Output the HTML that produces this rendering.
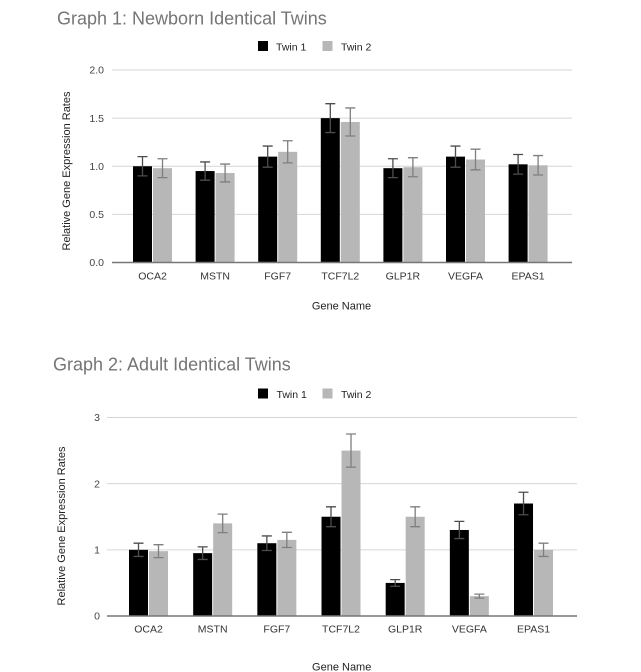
<!DOCTYPE html>
<html><head><meta charset="utf-8"><style>
html,body{margin:0;padding:0;background:#fff;}
svg{display:block;font-family:"Liberation Sans",Arial,sans-serif;}
</style></head><body>
<svg width="641" height="672" viewBox="0 0 641 672" xmlns="http://www.w3.org/2000/svg">
<rect width="641" height="672" fill="#fff"/>
<!-- ============ GRAPH 1 ============ -->
<text x="57" y="24.5" font-size="18" fill="#757575">Graph 1: Newborn Identical Twins</text>
<rect x="258" y="41" width="10" height="10" fill="#000"/>
<text x="276" y="50.5" font-size="10.5" fill="#222">Twin 1</text>
<rect x="322.5" y="41" width="10" height="10" fill="#b7b7b7"/>
<text x="341" y="50.5" font-size="10.5" fill="#222">Twin 2</text>
<g stroke="#d6d6d6" stroke-width="1">
<line x1="112" x2="572" y1="70" y2="70"/>
<line x1="112" x2="572" y1="118.1" y2="118.1"/>
<line x1="112" x2="572" y1="166.25" y2="166.25"/>
<line x1="112" x2="572" y1="214.4" y2="214.4"/>
</g>
<g font-size="10.5" fill="#444" text-anchor="end">
<text x="104" y="73.7">2.0</text>
<text x="104" y="121.8">1.5</text>
<text x="104" y="170">1.0</text>
<text x="104" y="218.1">0.5</text>
<text x="104" y="266.2">0.0</text>
</g>
<g fill="#000">
<rect x="133" y="166.25" width="19" height="96.25"/>
<rect x="195.6" y="171.06" width="19" height="91.44"/>
<rect x="258.2" y="156.63" width="19" height="105.87"/>
<rect x="320.8" y="118.13" width="19" height="144.37"/>
<rect x="383.4" y="168.18" width="19" height="94.32"/>
<rect x="446" y="156.63" width="19" height="105.87"/>
<rect x="508.6" y="164.32" width="19" height="98.18"/>
</g>
<g fill="#b7b7b7">
<rect x="153" y="168.18" width="19" height="94.32"/>
<rect x="215.6" y="172.99" width="19" height="89.51"/>
<rect x="278.2" y="151.81" width="19" height="110.69"/>
<rect x="340.8" y="121.97" width="19" height="140.53"/>
<rect x="403.4" y="167.21" width="19" height="95.29"/>
<rect x="466" y="159.51" width="19" height="102.99"/>
<rect x="528.6" y="165.29" width="19" height="97.21"/>
</g>
<g stroke="#4d4d4d" stroke-width="1.3" fill="none">
<path d="M142.5 156.63V175.88M137.5 156.63H147.5M137.5 175.88H147.5"/>
<path d="M205.1 161.92V180.21M200.1 161.92H210.1M200.1 180.21H210.1"/>
<path d="M267.7 146.04V167.21M262.7 146.04H272.7M262.7 167.21H272.7"/>
<path d="M330.3 103.69V132.56M325.3 103.69H335.3M325.3 132.56H335.3"/>
<path d="M392.9 158.74V177.61M387.9 158.74H397.9M387.9 177.61H397.9"/>
<path d="M455.5 146.04V167.21M450.5 146.04H460.5M450.5 167.21H460.5"/>
<path d="M518.1 154.51V174.14M513.1 154.51H523.1M513.1 174.14H523.1"/>
</g>
<g stroke="#7f7f7f" stroke-width="1.3" fill="none">
<path d="M162.5 158.74V177.61M157.5 158.74H167.5M157.5 177.61H167.5"/>
<path d="M225.1 164.04V181.94M220.1 164.04H230.1M220.1 181.94H230.1"/>
<path d="M287.7 140.74V162.88M282.7 140.74H292.7M282.7 162.88H292.7"/>
<path d="M350.3 107.92V136.03M345.3 107.92H355.3M345.3 136.03H355.3"/>
<path d="M412.9 157.68V176.74M407.9 157.68H417.9M407.9 176.74H417.9"/>
<path d="M475.5 149.21V169.81M470.5 149.21H480.5M470.5 169.81H480.5"/>
<path d="M538.1 155.57V175.01M533.1 155.57H543.1M533.1 175.01H543.1"/>
</g>
<line x1="112" x2="572" y1="262.5" y2="262.5" stroke="#777" stroke-width="1.5"/>
<g font-size="10.5" fill="#333" text-anchor="middle">
<text x="152.5" y="279.3">OCA2</text>
<text x="215.1" y="279.3">MSTN</text>
<text x="277.7" y="279.3">FGF7</text>
<text x="340.3" y="279.3">TCF7L2</text>
<text x="402.9" y="279.3">GLP1R</text>
<text x="465.5" y="279.3">VEGFA</text>
<text x="528.1" y="279.3">EPAS1</text>
</g>
<text x="341.5" y="309.3" font-size="11" fill="#222" text-anchor="middle">Gene Name</text>
<text transform="translate(70,171) rotate(-90)" font-size="11" fill="#222" text-anchor="middle">Relative Gene Expression Rates</text>

<!-- ============ GRAPH 2 ============ -->
<text x="53" y="370.7" font-size="18" fill="#757575">Graph 2: Adult Identical Twins</text>
<rect x="258" y="388.5" width="10" height="10" fill="#000"/>
<text x="276.5" y="398" font-size="10.5" fill="#222">Twin 1</text>
<rect x="322.5" y="388.5" width="10" height="10" fill="#b7b7b7"/>
<text x="341" y="398" font-size="10.5" fill="#222">Twin 2</text>
<g stroke="#d6d6d6" stroke-width="1">
<line x1="107" x2="577" y1="417.5" y2="417.5"/>
<line x1="107" x2="577" y1="483.67" y2="483.67"/>
<line x1="107" x2="577" y1="549.83" y2="549.83"/>
</g>
<g font-size="10.5" fill="#444" text-anchor="end">
<text x="100" y="421.2">3</text>
<text x="100" y="487.4">2</text>
<text x="100" y="553.5">1</text>
<text x="100" y="619.7">0</text>
</g>
<g fill="#000">
<rect x="129" y="549.83" width="19" height="66.17"/>
<rect x="193.17" y="553.14" width="19" height="62.86"/>
<rect x="257.34" y="543.21" width="19" height="72.79"/>
<rect x="321.51" y="516.74" width="19" height="99.26"/>
<rect x="385.68" y="582.92" width="19" height="33.08"/>
<rect x="449.85" y="529.98" width="19" height="86.02"/>
<rect x="514.02" y="503.51" width="19" height="112.49"/>
</g>
<g fill="#b7b7b7">
<rect x="149" y="551.15" width="19" height="64.85"/>
<rect x="213.17" y="523.36" width="19" height="92.64"/>
<rect x="277.34" y="539.9" width="19" height="76.1"/>
<rect x="341.51" y="450.57" width="19" height="165.43"/>
<rect x="405.68" y="516.74" width="19" height="99.26"/>
<rect x="469.85" y="596.15" width="19" height="19.85"/>
<rect x="534.02" y="549.83" width="19" height="66.17"/>
</g>
<g stroke="#4d4d4d" stroke-width="1.3" fill="none">
<path d="M138.5 543.21V556.45M133.5 543.21H143.5M133.5 556.45H143.5"/>
<path d="M202.67 546.85V559.42M197.67 546.85H207.67M197.67 559.42H207.67"/>
<path d="M266.84 535.93V550.49M261.84 535.93H271.84M261.84 550.49H271.84"/>
<path d="M331.01 506.82V526.67M326.01 506.82H336.01M326.01 526.67H336.01"/>
<path d="M395.18 579.61V586.22M390.18 579.61H400.18M390.18 586.22H400.18"/>
<path d="M459.35 521.38V538.58M454.35 521.38H464.35M454.35 538.58H464.35"/>
<path d="M523.52 492.26V514.76M518.52 492.26H528.52M518.52 514.76H528.52"/>
</g>
<g stroke="#7f7f7f" stroke-width="1.3" fill="none">
<path d="M158.5 544.67V557.64M153.5 544.67H163.5M153.5 557.64H163.5"/>
<path d="M222.67 514.1V532.63M217.67 514.1H227.67M217.67 532.63H227.67"/>
<path d="M286.84 532.29V547.51M281.84 532.29H291.84M281.84 547.51H291.84"/>
<path d="M351.01 434.03V467.12M346.01 434.03H356.01M346.01 467.12H356.01"/>
<path d="M415.18 506.82V526.67M410.18 506.82H420.18M410.18 526.67H420.18"/>
<path d="M479.35 594.16V598.13M474.35 594.16H484.35M474.35 598.13H484.35"/>
<path d="M543.52 543.21V556.45M538.52 543.21H548.52M538.52 556.45H548.52"/>
</g>
<line x1="107" x2="577" y1="616" y2="616" stroke="#777" stroke-width="1.5"/>
<g font-size="10.5" fill="#333" text-anchor="middle">
<text x="148.5" y="632.7">OCA2</text>
<text x="212.67" y="632.7">MSTN</text>
<text x="276.84" y="632.7">FGF7</text>
<text x="341.01" y="632.7">TCF7L2</text>
<text x="405.18" y="632.7">GLP1R</text>
<text x="469.35" y="632.7">VEGFA</text>
<text x="533.52" y="632.7">EPAS1</text>
</g>
<text x="341.7" y="670.5" font-size="11" fill="#222" text-anchor="middle">Gene Name</text>
<text transform="translate(65,526) rotate(-90)" font-size="11" fill="#222" text-anchor="middle">Relative Gene Expression Rates</text>
</svg>
</body></html>
